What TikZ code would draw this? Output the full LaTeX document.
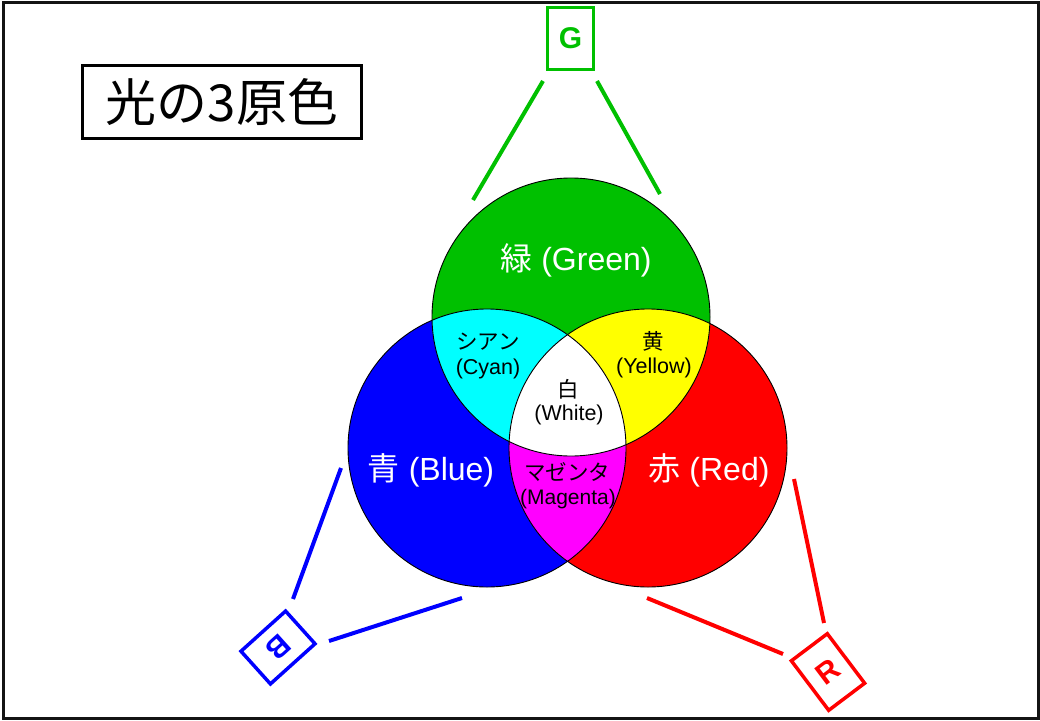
\documentclass[tikz,border=0pt]{standalone}
\usepackage{fontspec}
\setmainfont{Liberation Sans}
\newfontfamily\jp{Noto Sans CJK JP}
\definecolor{cgreen}{RGB}{0,192,0}
\definecolor{cblue}{RGB}{0,0,255}
\definecolor{cred}{RGB}{255,0,0}
\definecolor{ccyan}{RGB}{0,255,255}
\definecolor{cyellow}{RGB}{255,255,0}
\definecolor{cmagenta}{RGB}{255,0,255}
\definecolor{frame}{RGB}{20,20,20}
\begin{document}
\begin{tikzpicture}[x=1pt,y=-1pt,
  biglab/.style={text=white,inner sep=0pt,font=\fontsize{32}{36}\selectfont},
  smalllab/.style={text=black,inner sep=0pt,font=\fontsize{21.5}{24}\selectfont},
  letterbox/.style={draw=#1,text=#1,line width=3.5pt,inner sep=0pt,font=\bfseries\fontsize{30}{30}\selectfont},
  conn/.style={draw=#1,line width=4pt},
  vennline/.style={draw=black,line width=0.9pt}
]
\useasboundingbox (0,0) rectangle (1040,720);
\draw[draw=frame,line width=3pt] (3.5,2) rectangle (1038,718.5);

% title
\node[draw=black,line width=3pt,minimum width=279pt,minimum height=73pt,inner sep=0pt,
      font=\jp\fontsize{51}{51}\selectfont] (title) at (222,102) {光の3原色};

% circle centres
\coordinate (cg) at (571,317);
\coordinate (cb) at (487,448);
\coordinate (cr) at (648,448);
\def\R{139}

\fill[cblue] (cb) circle (\R);
\fill[cred] (cr) circle (\R);
\fill[cgreen] (cg) circle (\R);
\begin{scope}
  \clip (cg) circle (\R);
  \fill[ccyan] (cb) circle (\R);
  \fill[cyellow] (cr) circle (\R);
\end{scope}
\begin{scope}
  \clip (cb) circle (\R);
  \fill[cmagenta] (cr) circle (\R);
\end{scope}
\begin{scope}
  \clip (cg) circle (\R);
  \clip (cb) circle (\R);
  \fill[white] (cr) circle (\R);
\end{scope}
\draw[vennline] (cg) circle (\R);
\draw[vennline] (cb) circle (\R);
\draw[vennline] (cr) circle (\R);

% labels
\node[biglab] (lgreen) at (576,260) {{\jp 緑} (Green)};
\node[biglab] (lblue) at (431,470) {{\jp 青} (Blue)};
\node[biglab] (lred) at (709,470) {{\jp 赤} (Red)};

\node[smalllab] (lcyanj) at (488,342) {\jp シアン};
\node[smalllab] (lcyan) at (488,369) {(Cyan)};
\node[smalllab] (lyelj) at (653,341) {\jp 黄};
\node[smalllab] (lyel) at (654,368) {(Yellow)};
\node[smalllab] (lwhij) at (568,389) {\jp 白};
\node[smalllab] (lwhi) at (569,415) {(White)};
\node[smalllab] (lmagj) at (567,472) {\jp マゼンタ};
\node[smalllab,font=\fontsize{21}{24}\selectfont] (lmag) at (568,499) {(Magenta)};

% letter boxes
\node[letterbox=cgreen,minimum width=46pt,minimum height=62pt] (G) at (570.5,38.5) {G};
\node[letterbox=cblue,minimum width=60pt,minimum height=44pt,rotate=-138] (B) at (278,647.5) {B};
\node[letterbox=cred,minimum width=45pt,minimum height=62pt,rotate=37] (Rb) at (828,672) {R};

% connector ends
\coordinate (g1a) at (543,81);  \coordinate (g1b) at (473,200);
\coordinate (g2a) at (597,81);  \coordinate (g2b) at (660,194);
\coordinate (b1a) at (293,599); \coordinate (b1b) at (341,468);
\coordinate (b2a) at (329,641); \coordinate (b2b) at (462,598);
\coordinate (r1a) at (824,623); \coordinate (r1b) at (794,479);
\coordinate (r2a) at (783,654); \coordinate (r2b) at (647,598);

\draw[conn=cgreen] (g1a) -- (g1b);
\draw[conn=cgreen] (g2a) -- (g2b);
\draw[conn=cblue] (b1a) -- (b1b);
\draw[conn=cblue] (b2a) -- (b2b);
\draw[conn=cred] (r1a) -- (r1b);
\draw[conn=cred] (r2a) -- (r2b);
\end{tikzpicture}
\end{document}
